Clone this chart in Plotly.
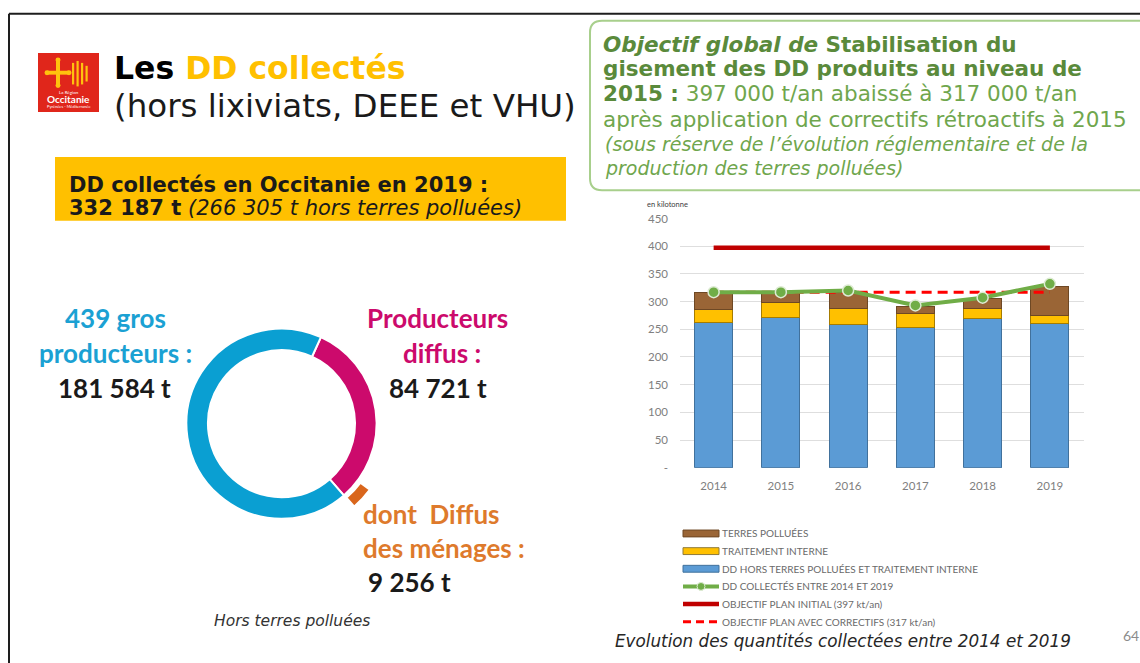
import plotly.graph_objects as go

W, H = 1140, 663

# --- Bar chart data (kilotonnes) ---
years = ["2014", "2015", "2016", "2017", "2018", "2019"]
dd_hors_terres = [262, 272, 259, 253, 269, 260]
traitement_interne = [23, 26, 29, 25, 19, 14]
terres_polluees = [32, 18, 29, 13, 18, 53]
dd_collectes = [317, 317, 320, 293, 307, 332]
objectif_initial = [397, 397, 397, 397, 397, 397]
objectif_correctifs = [317, 317, 317, 317, 317, 317]

series_names = [
    "TERRES POLLUÉES",
    "TRAITEMENT INTERNE",
    "DD HORS TERRES POLLUÉES ET TRAITEMENT INTERNE",
    "DD COLLECTÉS ENTRE 2014 ET 2019",
    "OBJECTIF PLAN INITIAL (397 kt/an)",
    "OBJECTIF PLAN AVEC CORRECTIFS (317 kt/an)",
]

y_ticks = [0, 50, 100, 150, 200, 250, 300, 350, 400, 450]
y_tick_text = ["-", "50", "100", "150", "200", "250", "300", "350", "400", "450"]

# --- Donut data (tonnes, hors terres polluées) ---
producteurs = ["439 gros producteurs", "Producteurs diffus"]
tonnages = [181584, 84721]
diffus_menages = 9256
total_2019 = 332187

SLIDE_FONT = "DejaVu Sans"
CAL_FONT = "Lato"

C_BLUE, C_YEL, C_BRN = "#5B9BD5", "#FFC000", "#9A6536"
C_GREEN, C_RED, C_RED2 = "#70AD47", "#C00000", "#FF0000"
C_RING_BLUE, C_RING_PINK, C_ORANGE = "#0A9FD2", "#CC0A6C", "#D9661C"
G_DARK, G_LIGHT = "#5A8A3B", "#6FA64D"


def X(x):
    return x / W


def Y(y):
    return 1 - y / H


def fmt_t(v):
    return f"{v:,}".replace(",", " ") + " t"


fig = go.Figure()

# stacked bars
fig.add_bar(x=years, y=dd_hors_terres, name=series_names[2],
            marker=dict(color=C_BLUE, line=dict(color="#41719C", width=1)))
fig.add_bar(x=years, y=traitement_interne, name=series_names[1],
            marker=dict(color=C_YEL, line=dict(color="#A67C00", width=1)))
fig.add_bar(x=years, y=terres_polluees, name=series_names[0],
            marker=dict(color=C_BRN, line=dict(color="#6E4824", width=1)))

# objective lines and collected total
fig.add_scatter(x=years, y=objectif_initial, name=series_names[4], mode="lines",
                line=dict(color=C_RED, width=4.5))
fig.add_scatter(x=years, y=objectif_correctifs, name=series_names[5], mode="lines",
                line=dict(color=C_RED2, width=3, dash="10px,6px"))
fig.add_scatter(x=years, y=dd_collectes, name=series_names[3], mode="lines+markers",
                line=dict(color=C_GREEN, width=4),
                marker=dict(size=11, color=C_GREEN, line=dict(color="#DDEBD3", width=1.5)))

fig.add_annotation(x=years[-1], y=dd_collectes[-1], xref="x", yref="y",
                   text=f"<b>{dd_collectes[-1]} kt</b>", showarrow=False,
                   xanchor="left", yanchor="middle", xshift=-3, yshift=16,
                   font=dict(family=CAL_FONT, size=21.5, color="#262626"))

# donut: gros producteurs vs diffus
ring_r, ring_cx, ring_cy = 97, 281.5, 425
fig.add_pie(values=[tonnages[1], tonnages[0]],
            labels=[producteurs[1], producteurs[0]],
            sort=False, direction="clockwise", rotation=24.5, hole=0.773,
            marker=dict(colors=[C_RING_PINK, C_RING_BLUE], line=dict(color="white", width=2)),
            textinfo="none", hoverinfo="skip", showlegend=False,
            domain=dict(x=[X(ring_cx - ring_r), X(ring_cx + ring_r)],
                        y=[Y(ring_cy + ring_r), Y(ring_cy - ring_r)]))

# outer chip: part of the diffus coming from households
chip_r = 113
fig.add_pie(values=[tonnages[1] - diffus_menages, diffus_menages, tonnages[0]],
            labels=["diffus (autres)", "Diffus des ménages", "gros"],
            sort=False, direction="clockwise", rotation=24.5, hole=100 / chip_r,
            marker=dict(colors=["rgba(0,0,0,0)", C_ORANGE, "rgba(0,0,0,0)"],
                        line=dict(color="white", width=[0, 3, 0])),
            textinfo="none", hoverinfo="skip", showlegend=False,
            domain=dict(x=[X(ring_cx - chip_r), X(ring_cx + chip_r)],
                        y=[Y(ring_cy + chip_r), Y(ring_cy - chip_r)]))

shapes = []

# slide frame
shapes.append(dict(type="line", xref="paper", yref="paper", x0=X(9), x1=X(1145), y0=Y(7), y1=Y(7),
                   line=dict(color="#1E1E1E", width=2)))
shapes.append(dict(type="line", xref="paper", yref="paper", x0=X(9), x1=X(9), y0=Y(7), y1=Y(670),
                   line=dict(color="#1E1E1E", width=2)))

# logo
shapes.append(dict(type="rect", xref="paper", yref="paper", x0=X(38), x1=X(99), y0=Y(107), y1=Y(47),
                   fillcolor="#E0261B", line=dict(width=0)))
shapes.append(dict(type="rect", xref="paper", yref="paper", x0=X(56), x1=X(60), y0=Y(80), y1=Y(54),
                   fillcolor="#FFC20E", line=dict(width=0)))
shapes.append(dict(type="rect", xref="paper", yref="paper", x0=X(47), x1=X(69), y0=Y(69), y1=Y(65),
                   fillcolor="#FFC20E", line=dict(width=0)))
for cx, cy in [(58, 54), (58, 80), (47, 67), (69, 67)]:
    shapes.append(dict(type="circle", xref="paper", yref="paper",
                       x0=X(cx - 2.5), x1=X(cx + 2.5), y0=Y(cy + 2.5), y1=Y(cy - 2.5),
                       fillcolor="#FFC20E", line=dict(width=0)))
for i, (top, bot) in enumerate([(57, 79), (55, 81), (57, 79), (60, 76)]):
    bx = 72 + i * 4.5
    shapes.append(dict(type="rect", xref="paper", yref="paper", x0=X(bx), x1=X(bx + 2.2),
                       y0=Y(bot), y1=Y(top), fillcolor="#FFC20E", line=dict(width=0)))

# yellow headline box
shapes.append(dict(type="rect", xref="paper", yref="paper", x0=X(55), x1=X(566), y0=Y(218), y1=Y(153),
                   fillcolor="#FFC000", line=dict(width=0)))


# green objective box with rounded corners
def rounded(x0, y0, x1, y1, r):
    return (f"M {X(x0 + r)},{Y(y0)} L {X(x1 - r)},{Y(y0)} Q {X(x1)},{Y(y0)} {X(x1)},{Y(y0 + r)} "
            f"L {X(x1)},{Y(y1 - r)} Q {X(x1)},{Y(y1)} {X(x1 - r)},{Y(y1)} "
            f"L {X(x0 + r)},{Y(y1)} Q {X(x0)},{Y(y1)} {X(x0)},{Y(y1 - r)} "
            f"L {X(x0)},{Y(y0 + r)} Q {X(x0)},{Y(y0)} {X(x0 + r)},{Y(y0)} Z")


shapes.append(dict(type="path", xref="paper", yref="paper", path=rounded(590, 14, 1165, 187, 12),
                   fillcolor="white", line=dict(color="#A8CF8C", width=2)))

# legend swatches
leg_x0, leg_x1 = 683, 719
leg_y = [537, 555, 573, 591, 609, 627]
swatch_fill = [(C_BRN, "#6E4824"), (C_YEL, "#8F7A3A"), (C_BLUE, "#41719C")]
for (fill, edge), yy in zip(swatch_fill, leg_y[:3]):
    shapes.append(dict(type="rect", xref="paper", yref="paper", x0=X(leg_x0), x1=X(leg_x1),
                       y0=Y(yy + 3.5), y1=Y(yy - 3.5), fillcolor=fill, line=dict(color=edge, width=1)))
shapes.append(dict(type="line", xref="paper", yref="paper", x0=X(leg_x0), x1=X(leg_x1),
                   y0=Y(leg_y[3]), y1=Y(leg_y[3]), line=dict(color=C_GREEN, width=4)))
shapes.append(dict(type="circle", xref="paper", yref="paper", x0=X(697), x1=X(705),
                   y0=Y(leg_y[3] + 4), y1=Y(leg_y[3] - 4), fillcolor=C_GREEN,
                   line=dict(color="#DDEBD3", width=1)))
shapes.append(dict(type="line", xref="paper", yref="paper", x0=X(leg_x0), x1=X(leg_x1),
                   y0=Y(leg_y[4]), y1=Y(leg_y[4]), line=dict(color=C_RED, width=4.5)))
shapes.append(dict(type="line", xref="paper", yref="paper", x0=X(leg_x0), x1=X(leg_x1),
                   y0=Y(leg_y[5]), y1=Y(leg_y[5]), line=dict(color=C_RED2, width=3, dash="8px,5px")))

fig.update_layout(shapes=shapes)


def text(x, y, s, size, color, family=SLIDE_FONT, anchor="left"):
    fig.add_annotation(xref="paper", yref="paper", x=X(x), y=Y(y), text=s, showarrow=False,
                       xanchor=anchor, yanchor="middle", align=anchor if anchor != "center" else "center",
                       font=dict(family=family, size=size, color=color))


# logo wording
text(68.5, 94, "<b>Occitanie</b>", 10, "white", CAL_FONT, "center")
text(68.5, 87, "La Région", 4.5, "white", CAL_FONT, "center")
text(68.5, 101, "Pyrénées - Méditerranée", 4, "white", CAL_FONT, "center")

# title
text(112, 62, "<b>Les <span style='color:#FFC000'>DD collectés</span></b>", 31.5, "#000000")
text(112, 101, "(hors lixiviats, DEEE et VHU)", 32.5, "#1A1A1A")

# headline: two lines in one block, tight line spacing from the smaller base size
headline = (
    "<span style='font-size:21px'><b>DD collectés en Occitanie en 2019 :</b></span><br>"
    f"<span style='font-size:21px'><b>{fmt_t(total_2019)}</b> "
    f"<i>({fmt_t(sum(tonnages))} hors terres polluées)</i></span>"
)
text(67, 193, headline, 17.5, "#1A1A1A")

# objective box text
text(601, 38, "<b><i>Objectif global de</i> Stabilisation du</b>", 21.5, G_DARK)
text(601, 63, "<b>gisement des DD produits au niveau de</b>", 21.5, G_DARK)
text(601, 88.5, f"<b style='color:{G_DARK}'>2015 :</b> 397 000 t/an abaissé à 317 000 t/an", 21.5, G_LIGHT)
text(601, 115, "après application de correctifs rétroactifs à 2015", 21.5, G_LIGHT)
text(603, 140, "<i>(sous réserve de l’évolution réglementaire et de la</i>", 19, G_LIGHT)
text(603, 164, "<i>production des terres polluées)</i>", 19, G_LIGHT)

# donut labels
text(115, 317, "<b>439 gros</b>", 26, "#1BA1D3", CAL_FONT, "center")
text(115, 353, "<b>producteurs :</b>", 26, "#1BA1D3", CAL_FONT, "center")
text(114, 389, f"<b>{fmt_t(tonnages[0])}</b>", 26, "#1A1A1A", CAL_FONT, "center")
text(438, 317, "<b>Producteurs</b>", 26, C_RING_PINK, CAL_FONT, "center")
text(442, 353, "<b>diffus :</b>", 26, C_RING_PINK, CAL_FONT, "center")
text(438, 389, f"<b>{fmt_t(tonnages[1])}</b>", 26, "#1A1A1A", CAL_FONT, "center")
text(361, 517, "<b>dont\u00a0 Diffus</b>", 26, "#DE7A2C", CAL_FONT)
text(361, 552, "<b>des ménages :</b>", 26, "#DE7A2C", CAL_FONT)
text(366, 587, f"<b>{fmt_t(diffus_menages)}</b>", 26, "#1A1A1A", CAL_FONT)
text(292, 626, "<i>Hors terres polluées</i>", 15.5, "#333333", SLIDE_FONT, "center")

# chart captions
text(667, 201, "en kilotonne", 7.5, "#404040", CAL_FONT, "center")
for name, yy in zip(series_names, leg_y):
    text(720, yy, name, 10, "#6A6A6A", CAL_FONT)
text(613, 647, "<i>Evolution des quantités collectées entre 2014 et 2019</i>", 16.8, "#262626")
text(1121, 641, "64", 14, "#8C8C8C", CAL_FONT)

fig.update_layout(
    width=W, height=H, autosize=False,
    margin=dict(l=0, r=0, t=0, b=0),
    paper_bgcolor="white", plot_bgcolor="white",
    barmode="stack", bargap=0.433, showlegend=False, hovermode=False,
    xaxis=dict(domain=[X(680), X(1083.5)], type="category", range=[-0.5, 5.5],
               showgrid=False, showline=False, zeroline=False, ticks="",
               ticklabelstandoff=10,
               tickfont=dict(family=CAL_FONT, size=11.5, color="#808080")),
    yaxis=dict(domain=[Y(470), Y(215.7)], range=[0, 450],
               tickmode="array", tickvals=y_ticks, ticktext=y_tick_text,
               showgrid=True, gridcolor="#DEDEDE", gridwidth=1,
               showline=False, zeroline=False, ticks="", ticklabelstandoff=11,
               tickfont=dict(family=CAL_FONT, size=11.5, color="#808080")),
)

fig.write_html("out.html")
